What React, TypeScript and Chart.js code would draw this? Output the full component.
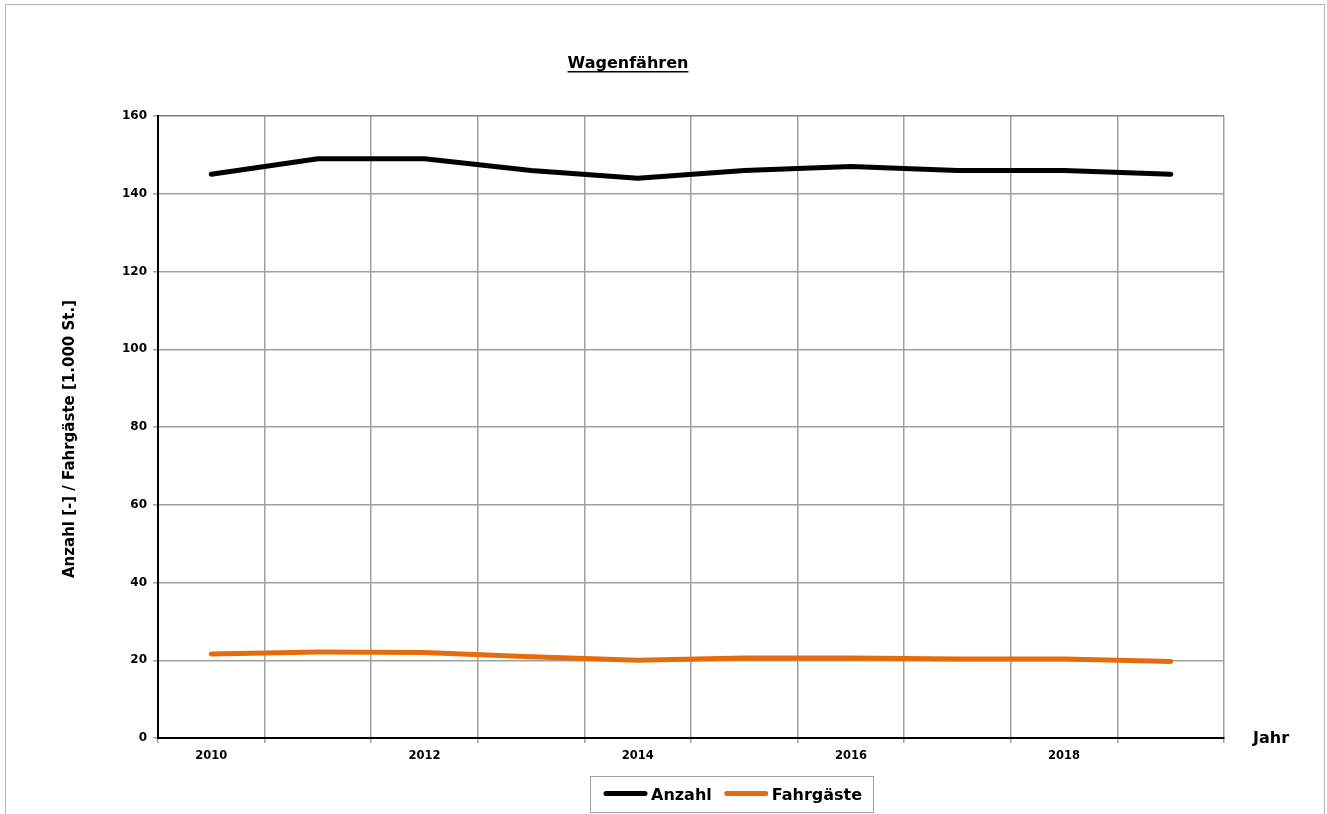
import React, { useEffect, useRef } from "react";
import { Chart, registerables } from "chart.js";

Chart.register(...registerables);

const years = ["2010", "2011", "2012", "2013", "2014", "2015", "2016", "2017", "2018", "2019"];
const anzahl = [145, 149, 149, 146, 144, 146, 147, 146, 146, 145];
const fahrgaeste = [21.6, 22.1, 22.0, 20.9, 20.0, 20.6, 20.6, 20.3, 20.3, 19.7];
const seriesNames = ["Anzahl", "Fahrgäste"];
const seriesColors = ["#000000", "#E46C0A"];
const yMin = 0;
const yMax = 160;
const yStep = 20;
const chartTitle = "Wagenfähren";
const yTitle = "Anzahl [-] / Fahrgäste [1.000 St.]";
const xTitle = "Jahr";

const FONT = "'DejaVu Sans', 'Liberation Sans', Arial, sans-serif";

const decorPlugin = {
  id: "decor",
  afterDraw(chart: any) {
    const ctx = chart.ctx as CanvasRenderingContext2D;
    ctx.save();
    // outer frame
    ctx.strokeStyle = "#b4b4b4";
    ctx.lineWidth = 1;
    ctx.strokeRect(5.5, 4.5, 1319, 830);

    // title with underline
    ctx.fillStyle = "#000";
    ctx.font = `bold 16px ${FONT}`;
    ctx.textAlign = "center";
    ctx.textBaseline = "alphabetic";
    const tx = 628;
    const ty = 68;
    ctx.fillText(chartTitle, tx, ty);
    const tw = ctx.measureText(chartTitle).width;
    ctx.fillRect(tx - tw / 2, ty + 3, tw, 1.5);

    // y axis title
    ctx.save();
    ctx.translate(70, 439);
    ctx.rotate(-Math.PI / 2);
    ctx.font = `bold 15px ${FONT}`;
    ctx.textAlign = "center";
    ctx.textBaseline = "middle";
    ctx.fillText(yTitle, 0, 0);
    ctx.restore();

    // x axis title
    ctx.textAlign = "left";
    ctx.font = `bold 16px ${FONT}`;
    ctx.fillText(xTitle, 1253, 743);

    // legend
    const lx = 590.5, ly = 776.5, lw = 283, lh = 36;
    ctx.strokeStyle = "#a0a0a0";
    ctx.lineWidth = 1;
    ctx.strokeRect(lx, ly, lw, lh);
    const items = chart.data.datasets.map((d: any) => ({ label: d.label, color: d.borderColor }));
    let x = 606;
    const cy = 793.5;
    ctx.font = `bold 16px ${FONT}`;
    ctx.textBaseline = "alphabetic";
    items.forEach((it: any) => {
      ctx.strokeStyle = it.color;
      ctx.lineWidth = 5;
      ctx.lineCap = "round";
      ctx.beginPath();
      ctx.moveTo(x, cy);
      ctx.lineTo(x + 39, cy);
      ctx.stroke();
      ctx.fillStyle = "#000";
      ctx.fillText(it.label, x + 45, 800);
      const w = ctx.measureText(it.label).width;
      x = x + 45 + w + 15;
    });
    ctx.restore();
  },
};

export default function App() {
  const canvasRef = useRef<HTMLCanvasElement>(null);

  useEffect(() => {
    const canvas = canvasRef.current;
    if (!canvas) return;
    const lastIdx = years.length;
    const chart = new Chart(canvas, {
      type: "line",
      data: {
        labels: years,
        datasets: [
          {
            label: seriesNames[0],
            data: anzahl,
            borderColor: seriesColors[0],
            backgroundColor: seriesColors[0],
            borderWidth: 5,
            borderCapStyle: "round",
            borderJoinStyle: "round",
            pointRadius: 0,
            tension: 0,
          },
          {
            label: seriesNames[1],
            data: fahrgaeste,
            borderColor: seriesColors[1],
            backgroundColor: seriesColors[1],
            borderWidth: 5,
            borderCapStyle: "round",
            borderJoinStyle: "round",
            pointRadius: 0,
            tension: 0,
          },
        ],
      },
      options: {
        responsive: false,
        animation: false,
        devicePixelRatio: 1,
        layout: { padding: { top: 116, right: 103, bottom: 46, left: 0 } },
        plugins: {
          legend: { display: false },
          title: { display: false },
          tooltip: { enabled: false },
        },
        scales: {
          x: {
            type: "category",
            offset: true,
            grid: {
              offset: true,
              color: (c: any) => (c.index === 0 ? "rgba(0,0,0,0)" : c.index === lastIdx ? "#808080" : "#a0a0a0"),
              lineWidth: 1.5,
              tickLength: 5,
              tickColor: "#a0a0a0",
            },
            border: { display: true, color: "#000", width: 2 },
            ticks: {
              autoSkip: false,
              maxRotation: 0,
              padding: 6,
              color: "#000",
              font: { family: FONT, size: 11.5, weight: "bold" },
              callback: (_v: any, i: number) => (i % 2 === 0 ? years[i] : ""),
            },
            afterFit: (s: any) => {
              s.height = 30;
            },
          },
          y: {
            min: yMin,
            max: yMax,
            grid: {
              color: (c: any) =>
                c.tick && c.tick.value === yMin ? "rgba(0,0,0,0)" : c.tick && c.tick.value === yMax ? "#808080" : "#a0a0a0",
              lineWidth: 1.5,
              tickLength: 5,
              tickColor: "#a0a0a0",
            },
            border: { display: true, color: "#000", width: 2 },
            ticks: {
              stepSize: yStep,
              padding: 6,
              color: "#000",
              font: { family: FONT, size: 12, weight: "bold" },
            },
            title: { display: false },
            afterFit: (s: any) => {
              s.width = 158;
            },
          },
        },
      },
      plugins: [decorPlugin],
    } as any);
    return () => chart.destroy();
  }, []);

  return (
    <div style={{ position: "absolute", left: 0, top: 0, width: 1327, height: 814, background: "#fff" }}>
      <canvas ref={canvasRef} width={1327} height={814} style={{ display: "block" }} />
    </div>
  );
}
